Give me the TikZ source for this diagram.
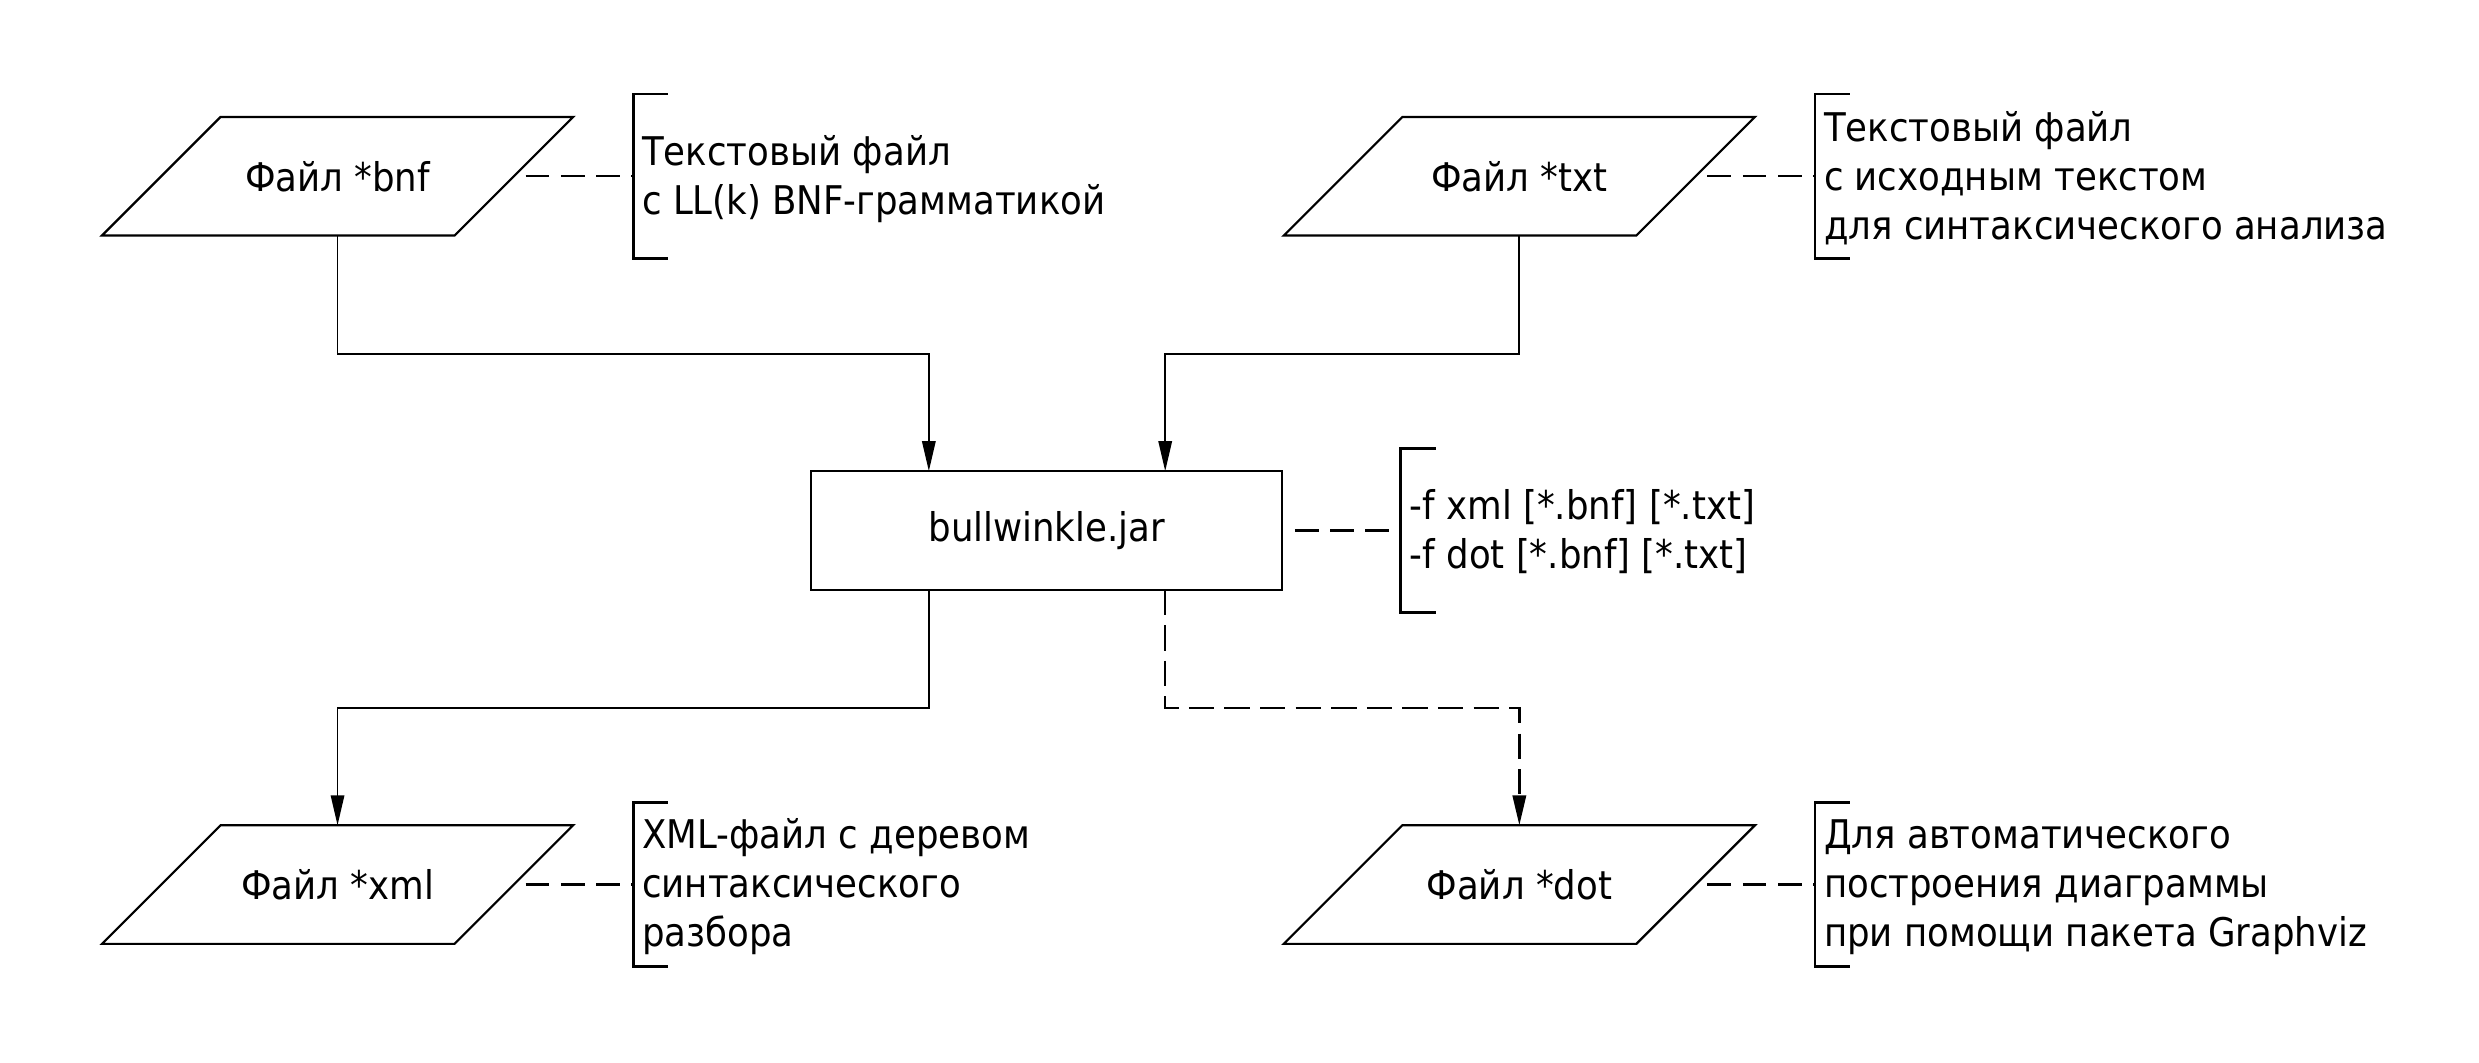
\documentclass[tikz,border=0pt]{standalone}
\usepackage{fontspec}
\setmainfont[FakeStretch=0.9]{DejaVu Sans}
\usetikzlibrary{arrows.meta}
\begin{document}
\begin{tikzpicture}[x=1pt,y=-1pt,
  every node/.style={font=\fontsize{25}{31}\selectfont},
  box/.style={draw, line width=1.4pt, minimum width=298pt, minimum height=75pt, inner sep=0pt, outer sep=0pt},
  io/.style={minimum width=223pt, minimum height=75pt, inner sep=0pt, outer sep=0pt},
  ioline/.style={line width=1.4pt, line join=miter},
  conn/.style={line width=1.15pt, -{Triangle[length=19pt,width=8.5pt]}},
  dconn/.style={conn, line width=1.5pt, dash pattern=on 16pt off 6.5pt},
  leader/.style={line width=1.4pt, dash pattern=on 15pt off 7.3pt},
  brk/.style={line width=1.7pt, line join=miter},
  note/.style={anchor=west, align=left, inner sep=0pt}]
\useasboundingbox (0,0) rectangle (1568,672);

% main nodes
\node[io] (bnf) at (213.5,111.5) {Файл *bnf};
\node[io] (txt) at (961,111.5) {Файл *txt};
\node[box] (jar) at (662,335.5) {bullwinkle.jar};
\node[io] (xml) at (213.5,559.5) {Файл *xml};
\node[io] (dot) at (961,559.5) {Файл *dot};

% parallelogram outlines
\foreach \n in {bnf,txt,xml,dot}
  \draw[ioline] ([xshift=37.5pt]\n.north west) -- ([xshift=37.5pt]\n.north east)
    -- ([xshift=-37.5pt]\n.south east) -- ([xshift=-37.5pt]\n.south west) -- cycle;

% bracket coordinates
\coordinate (bnfb) at (400.5,111.5);
\coordinate (txtb) at (1148,111.5);
\coordinate (jarb) at (886,335.5);
\coordinate (xmlb) at (400.5,559.5);
\coordinate (dotb) at (1148,559.5);

\foreach \b in {bnfb,txtb,jarb,xmlb,dotb}
  \draw[brk] (\b) ++(22,-52) -- ++(-22,0) -- ++(0,104) -- ++(22,0);

% leaders
\draw[leader] ([xshift=7.5pt]bnf.east) -- (bnfb);
\draw[leader] ([xshift=7.5pt]txt.east) -- (txtb);
\draw[leader] ([xshift=8pt]jar.east) -- (jarb);
\draw[leader] ([xshift=7.5pt]xml.east) -- (xmlb);
\draw[leader] ([xshift=7.5pt]dot.east) -- (dotb);

% notes
\node[note] (bnfn) at (406,113.5) {Текстовый файл\\с LL(k) BNF-грамматикой};
\node[note] (txtn) at (1153.5,113) {Текстовый файл\\с исходным текстом\\для синтаксического анализа};
\node[note] (jarn) at (891.5,336.5) {-f xml [*.bnf] [*.txt]\\-f dot [*.bnf] [*.txt]};
\node[note] (xmln) at (406,561) {XML-файл с деревом\\синтаксического\\разбора};
\node[note] (dotn) at (1153.5,561) {Для автоматического\\построения диаграммы\\при помощи пакета Graphviz};

% connectors
\draw[conn] (bnf.south) -- ++(0,75) -| ([xshift=-74.5pt]jar.north);
\draw[conn] (txt.south) -- ++(0,75) -| ([xshift=75pt]jar.north);
\draw[conn] ([xshift=-74.5pt]jar.south) -- ++(0,75) -| (xml.north);
\draw[dconn] ([xshift=75pt]jar.south) -- ++(0,75) -| (dot.north);
\end{tikzpicture}
\end{document}
